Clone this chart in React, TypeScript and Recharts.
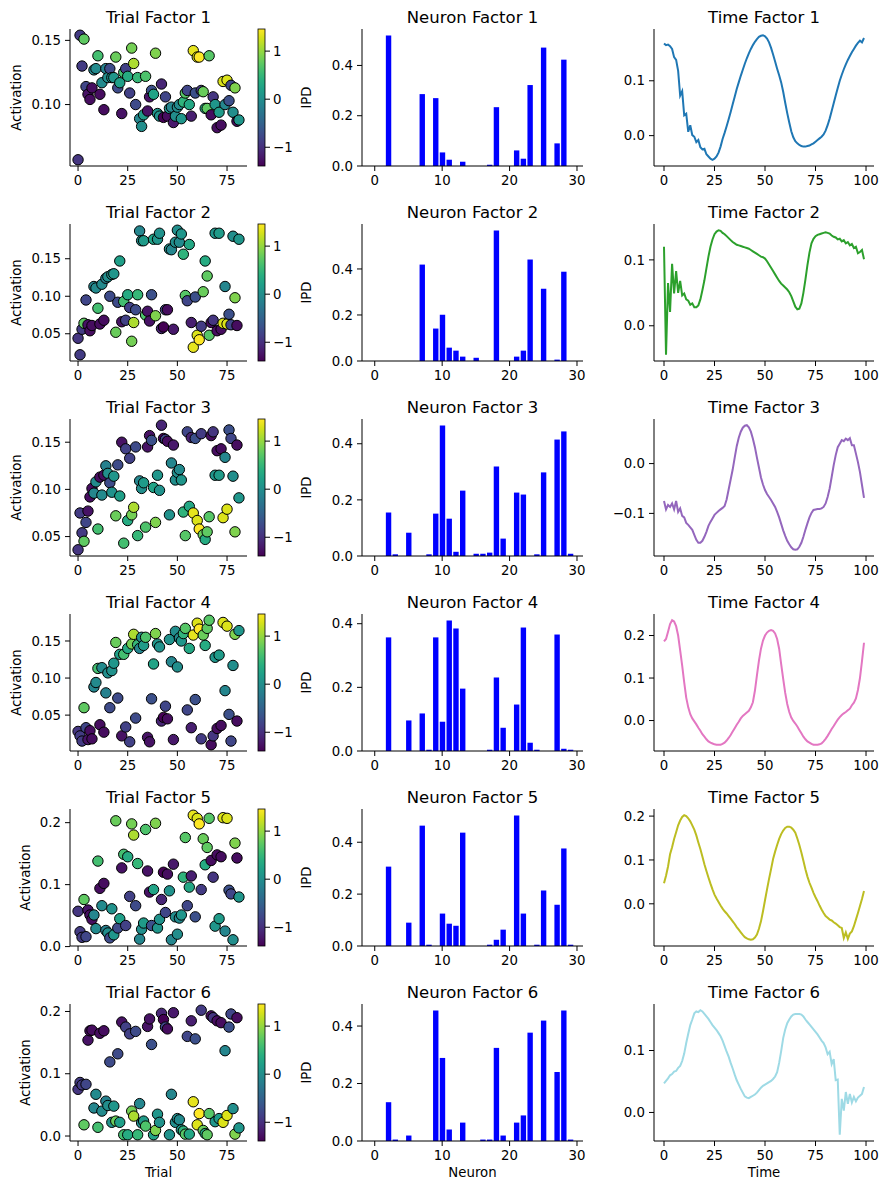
import React from 'react';
import { ScatterChart, Scatter, XAxis, YAxis, BarChart, Bar, LineChart, Line } from 'recharts';

// ---------------- DATA ----------------
const trialColor = [
  -0.95, -0.9, -0.9, 0.75, -0.8, -1.25, -1.3, -1.3, -0.1, -0.05,
  0.6, -1.3, -0.05, -1.3, -0.15, 0.0, -0.75, 0.05, 0.1, 0.8,
  -0.75, 0.2, -1.25, 0.6, -0.85, 0.35, -0.85, 0.85, 1.1, -0.75,
  0.5, -0.1, 0.0, 0.15, 0.65, -1.25, -1.25, -0.7, 0.25, 0.9,
  0.1, 0.05, -1.1, -1.39, -0.8, -1.3, 0.05, -0.1, -1.2, 0.0,
  0.0, -0.05, 0.1, 0.45, 0.7, -0.8, 0.3, -1.15, 1.35, -0.7,
  1.3, 1.46, -0.9, 0.8, 0.35, 0.75, 0.7, -1.3, -0.95, 0.1,
  -1.3, 0.15, -1.3, 1.3, -0.1, 1.3, -0.7, -0.8, 0.0, 0.9,
  -1.3, 0.1,
];

const trialFactor1 = [
  0.057, 0.154, 0.130, 0.151, 0.114, 0.108, 0.104, 0.113, 0.127, 0.128,
  0.138, 0.108, 0.117, 0.096, 0.128, 0.121, 0.128, 0.121, 0.121, 0.137,
  0.113, 0.117, 0.093, 0.125, 0.128, 0.122, 0.109, 0.144, 0.132, 0.100,
  0.121, 0.089, 0.083, 0.092, 0.122, 0.095, 0.106, 0.111, 0.108, 0.140,
  0.093, 0.091, 0.116, 0.090, 0.106, 0.091, 0.097, 0.098, 0.086, 0.091,
  0.098, 0.100, 0.089, 0.102, 0.109, 0.111, 0.100, 0.091, 0.142, 0.109,
  0.137, 0.137, 0.111, 0.110, 0.097, 0.097, 0.138, 0.092, 0.106, 0.100,
  0.082, 0.094, 0.084, 0.118, 0.100, 0.119, 0.103, 0.115, 0.094, 0.113,
  0.087, 0.088,
];
const trialFactor2 = [
  0.044, 0.022, 0.056, 0.064, 0.095, 0.062, 0.054, 0.061, 0.113, 0.111,
  0.084, 0.063, 0.116, 0.068, 0.124, 0.126, 0.100, 0.129, 0.130, 0.052,
  0.092, 0.147, 0.066, 0.093, 0.068, 0.102, 0.085, 0.040, 0.065, 0.082,
  0.102, 0.187, 0.174, 0.174, 0.075, 0.080, 0.067, 0.102, 0.176, 0.074,
  0.176, 0.184, 0.057, 0.059, 0.082, 0.082, 0.163, 0.162, 0.056, 0.172,
  0.188, 0.172, 0.183, 0.156, 0.101, 0.094, 0.169, 0.065, 0.032, 0.099,
  0.048, 0.042, 0.060, 0.106, 0.147, 0.127, 0.048, 0.065, 0.068, 0.184,
  0.054, 0.184, 0.056, 0.064, 0.113, 0.063, 0.076, 0.062, 0.180, 0.098,
  0.061, 0.176,
];
const trialFactor3 = [
  0.036, 0.075, 0.054, 0.045, 0.065, 0.077, 0.092, 0.101, 0.096, 0.108,
  0.058, 0.113, 0.094, 0.115, 0.125, 0.117, 0.107, 0.097, 0.114, 0.072,
  0.126, 0.093, 0.150, 0.043, 0.143, 0.067, 0.133, 0.073, 0.081, 0.145,
  0.051, 0.109, 0.101, 0.107, 0.060, 0.145, 0.157, 0.152, 0.102, 0.065,
  0.115, 0.099, 0.168, 0.154, 0.153, 0.151, 0.073, 0.128, 0.147, 0.110,
  0.118, 0.121, 0.110, 0.076, 0.051, 0.161, 0.082, 0.155, 0.075, 0.154,
  0.067, 0.058, 0.159, 0.052, 0.047, 0.055, 0.071, 0.157, 0.161, 0.115,
  0.141, 0.115, 0.143, 0.070, 0.134, 0.079, 0.163, 0.154, 0.114, 0.055,
  0.147, 0.091,
];
const trialFactor4 = [
  0.028, 0.022, 0.015, 0.060, 0.033, 0.017, 0.029, 0.018, 0.088, 0.094,
  0.113, 0.037, 0.114, 0.027, 0.080, 0.107, 0.060, 0.110, 0.120, 0.148,
  0.073, 0.132, 0.022, 0.132, 0.034, 0.140, 0.014, 0.146, 0.159, 0.046,
  0.145, 0.140, 0.155, 0.144, 0.155, 0.020, 0.014, 0.072, 0.119, 0.160,
  0.146, 0.142, 0.042, 0.047, 0.062, 0.045, 0.152, 0.122, 0.017, 0.163,
  0.115, 0.154, 0.150, 0.160, 0.167, 0.057, 0.140, 0.033, 0.158, 0.071,
  0.174, 0.166, 0.018, 0.158, 0.144, 0.167, 0.178, 0.010, 0.022, 0.128,
  0.032, 0.131, 0.036, 0.175, 0.083, 0.170, 0.051, 0.015, 0.117, 0.159,
  0.042, 0.164,
];
const trialFactor5 = [
  0.057, 0.024, 0.015, 0.076, 0.016, 0.059, 0.051, 0.044, 0.051, 0.029,
  0.138, 0.094, 0.066, 0.102, 0.026, 0.022, 0.014, 0.061, 0.019, 0.203,
  0.030, 0.045, 0.127, 0.149, 0.034, 0.145, 0.081, 0.198, 0.180, 0.066,
  0.134, 0.012, 0.028, 0.038, 0.189, 0.122, 0.088, 0.034, 0.092, 0.199,
  0.030, 0.044, 0.076, 0.120, 0.055, 0.117, 0.090, 0.011, 0.133, 0.048,
  0.020, 0.046, 0.051, 0.112, 0.176, 0.066, 0.096, 0.114, 0.212, 0.048,
  0.207, 0.198, 0.092, 0.174, 0.132, 0.160, 0.207, 0.139, 0.112, 0.033,
  0.148, 0.045, 0.145, 0.208, 0.025, 0.207, 0.091, 0.085, 0.011, 0.167,
  0.143, 0.080,
];
const trialFactor6 = [
  0.075, 0.086, 0.082, 0.018, 0.083, 0.154, 0.169, 0.170, 0.045, 0.067,
  0.014, 0.165, 0.040, 0.169, 0.056, 0.049, 0.119, 0.022, 0.048, 0.024,
  0.132, 0.022, 0.183, 0.002, 0.175, 0.002, 0.164, 0.040, 0.032, 0.168,
  0.002, 0.052, 0.021, 0.024, 0.016, 0.176, 0.188, 0.147, 0.002, 0.009,
  0.035, 0.022, 0.197, 0.187, 0.175, 0.172, 0.002, 0.067, 0.198, 0.022,
  0.028, 0.026, 0.010, 0.008, 0.003, 0.160, 0.003, 0.185, 0.055, 0.156,
  0.018, 0.036, 0.202, 0.009, 0.004, 0.002, 0.036, 0.193, 0.190, 0.023,
  0.185, 0.028, 0.182, 0.022, 0.137, 0.033, 0.175, 0.196, 0.044, 0.003,
  0.190, 0.013,
];

const neuronFactor1 = [0, 0, 0.519, 0, 0, 0, 0, 0.286, 0, 0.270, 0.054, 0.025, 0, 0.017, 0, 0, 0, 0.005, 0.234, 0, 0, 0.062, 0.029, 0.322, 0, 0.471, 0, 0.090, 0.423, 0];
const neuronFactor2 = [0, 0, 0, 0, 0, 0, 0, 0.419, 0, 0.141, 0.201, 0.058, 0.045, 0.019, 0, 0.014, 0, 0, 0.567, 0, 0, 0.019, 0.045, 0.441, 0, 0.314, 0, 0.006, 0.388, 0];
const neuronFactor3 = [0, 0, 0.155, 0.006, 0, 0.083, 0, 0, 0.006, 0.151, 0.465, 0.133, 0.015, 0.233, 0, 0.008, 0.008, 0.012, 0.319, 0.062, 0, 0.226, 0.219, 0, 0.006, 0.298, 0, 0.415, 0.444, 0.008];
const neuronFactor4 = [0, 0, 0.357, 0, 0, 0.096, 0, 0.118, 0.004, 0.357, 0.092, 0.410, 0.385, 0.196, 0, 0, 0, 0.004, 0.231, 0.073, 0, 0.146, 0.388, 0.026, 0.004, 0, 0, 0.366, 0.007, 0.004];
const neuronFactor5 = [0, 0, 0.306, 0, 0, 0.090, 0, 0.464, 0.005, 0, 0.125, 0.086, 0.078, 0.437, 0, 0, 0, 0.005, 0.024, 0.063, 0, 0.503, 0.125, 0, 0.005, 0.214, 0, 0.159, 0.376, 0.005];
const neuronFactor6 = [0, 0, 0.135, 0.005, 0, 0.019, 0, 0, 0, 0.454, 0.289, 0.040, 0, 0.064, 0, 0, 0.005, 0.005, 0.324, 0.019, 0, 0.064, 0.089, 0.377, 0, 0.419, 0, 0.240, 0.454, 0.005];

const timeFactor1 = [
  0.168, 0.165, 0.166, 0.163, 0.158, 0.143, 0.138, 0.118, 0.073, 0.081,
  0.037, 0.040, 0.007, 0.019, 0.001, -0.002, -0.012, -0.008, -0.021, -0.025,
  -0.024, -0.034, -0.038, -0.042, -0.044, -0.042, -0.038, -0.031, -0.020, -0.006,
  0.005, 0.017, 0.030, 0.043, 0.057, 0.071, 0.085, 0.097, 0.109, 0.120,
  0.131, 0.141, 0.150, 0.158, 0.165, 0.171, 0.176, 0.180, 0.182, 0.183,
  0.181, 0.177, 0.170, 0.160, 0.148, 0.135, 0.122, 0.110, 0.097, 0.080,
  0.060, 0.041, 0.024, 0.008, -0.003, -0.010, -0.014, -0.017, -0.019, -0.020,
  -0.020, -0.019, -0.018, -0.016, -0.014, -0.011, -0.008, -0.005, -0.002, 0.002,
  0.009, 0.019, 0.031, 0.045, 0.059, 0.073, 0.087, 0.100, 0.111, 0.121,
  0.130, 0.138, 0.145, 0.152, 0.158, 0.164, 0.169, 0.173, 0.170, 0.178,
];
const timeFactor2 = [
  0.120, -0.044, 0.065, 0.021, 0.094, 0.049, 0.083, 0.050, 0.068, 0.046,
  0.049, 0.040, 0.038, 0.032, 0.034, 0.028, 0.028, 0.031, 0.040, 0.054,
  0.069, 0.087, 0.105, 0.120, 0.131, 0.139, 0.143, 0.145, 0.144, 0.141,
  0.139, 0.136, 0.133, 0.130, 0.127, 0.125, 0.123, 0.122, 0.121, 0.120,
  0.119, 0.118, 0.117, 0.115, 0.113, 0.111, 0.109, 0.107, 0.105, 0.104,
  0.102, 0.098, 0.093, 0.088, 0.083, 0.078, 0.073, 0.068, 0.064, 0.061,
  0.058, 0.055, 0.051, 0.045, 0.037, 0.029, 0.025, 0.026, 0.034, 0.050,
  0.070, 0.092, 0.111, 0.125, 0.132, 0.136, 0.138, 0.139, 0.140, 0.141,
  0.142, 0.141, 0.140, 0.137, 0.135, 0.134, 0.131, 0.132, 0.128, 0.130,
  0.125, 0.127, 0.122, 0.124, 0.118, 0.120, 0.110, 0.112, 0.115, 0.101,
];
const timeFactor3 = [
  -0.075, -0.092, -0.083, -0.087, -0.080, -0.092, -0.075, -0.097, -0.090, -0.105,
  -0.108, -0.119, -0.123, -0.128, -0.133, -0.143, -0.153, -0.159, -0.159, -0.155,
  -0.147, -0.137, -0.125, -0.117, -0.110, -0.103, -0.099, -0.095, -0.092, -0.089,
  -0.085, -0.072, -0.052, -0.032, -0.012, 0.012, 0.035, 0.052, 0.064, 0.072,
  0.076, 0.077, 0.073, 0.064, 0.050, 0.033, 0.012, -0.008, -0.028, -0.042,
  -0.053, -0.061, -0.067, -0.073, -0.080, -0.087, -0.097, -0.108, -0.121, -0.134,
  -0.145, -0.155, -0.162, -0.168, -0.172, -0.173, -0.172, -0.167, -0.159, -0.147,
  -0.133, -0.120, -0.108, -0.099, -0.093, -0.092, -0.091, -0.091, -0.090, -0.087,
  -0.080, -0.067, -0.050, -0.027, -0.003, 0.017, 0.033, 0.040, 0.047, 0.045,
  0.050, 0.047, 0.051, 0.037, 0.037, 0.020, 0.003, -0.017, -0.043, -0.069,
];
const timeFactor4 = [
  0.186, 0.192, 0.209, 0.227, 0.236, 0.233, 0.222, 0.200, 0.165, 0.129,
  0.090, 0.054, 0.031, 0.015, 0.005, -0.002, -0.009, -0.017, -0.024, -0.032,
  -0.038, -0.044, -0.049, -0.052, -0.054, -0.056, -0.057, -0.057, -0.057, -0.055,
  -0.052, -0.047, -0.041, -0.034, -0.026, -0.018, -0.010, -0.003, 0.005, 0.011,
  0.015, 0.019, 0.023, 0.031, 0.043, 0.070, 0.106, 0.141, 0.169, 0.188,
  0.200, 0.207, 0.211, 0.213, 0.211, 0.205, 0.192, 0.169, 0.133, 0.098,
  0.065, 0.039, 0.020, 0.007, -0.001, -0.007, -0.014, -0.022, -0.030, -0.038,
  -0.044, -0.049, -0.052, -0.055, -0.057, -0.057, -0.057, -0.056, -0.054, -0.049,
  -0.043, -0.036, -0.028, -0.020, -0.013, -0.005, 0.002, 0.008, 0.013, 0.017,
  0.020, 0.024, 0.028, 0.036, 0.042, 0.052, 0.072, 0.100, 0.140, 0.183,
];
const timeFactor5 = [
  0.047, 0.064, 0.085, 0.113, 0.129, 0.148, 0.163, 0.179, 0.190, 0.198,
  0.202, 0.200, 0.195, 0.188, 0.179, 0.169, 0.156, 0.140, 0.125, 0.108,
  0.090, 0.075, 0.060, 0.046, 0.033, 0.021, 0.012, 0.004, -0.004, -0.011,
  -0.017, -0.022, -0.028, -0.034, -0.040, -0.046, -0.053, -0.059, -0.065, -0.071,
  -0.076, -0.079, -0.081, -0.082, -0.081, -0.077, -0.070, -0.057, -0.040, -0.017,
  0.008, 0.033, 0.057, 0.079, 0.102, 0.119, 0.134, 0.148, 0.159, 0.167,
  0.173, 0.176, 0.176, 0.174, 0.169, 0.162, 0.149, 0.134, 0.117, 0.098,
  0.079, 0.062, 0.048, 0.037, 0.025, 0.015, 0.006, -0.004, -0.013, -0.021,
  -0.028, -0.032, -0.036, -0.038, -0.042, -0.045, -0.049, -0.053, -0.055, -0.078,
  -0.065, -0.080, -0.068, -0.063, -0.051, -0.036, -0.021, -0.005, 0.011, 0.029,
];
const timeFactor6 = [
  0.047, 0.051, 0.055, 0.060, 0.062, 0.066, 0.067, 0.072, 0.075, 0.083,
  0.095, 0.112, 0.127, 0.141, 0.150, 0.160, 0.163, 0.162, 0.165, 0.163,
  0.159, 0.155, 0.151, 0.146, 0.141, 0.137, 0.133, 0.128, 0.123, 0.116,
  0.107, 0.098, 0.090, 0.080, 0.071, 0.061, 0.052, 0.045, 0.038, 0.032,
  0.026, 0.024, 0.023, 0.025, 0.027, 0.029, 0.032, 0.036, 0.040, 0.043,
  0.045, 0.047, 0.049, 0.051, 0.054, 0.058, 0.065, 0.080, 0.099, 0.120,
  0.134, 0.144, 0.150, 0.155, 0.158, 0.159, 0.159, 0.159, 0.158, 0.155,
  0.150, 0.146, 0.142, 0.138, 0.134, 0.130, 0.126, 0.121, 0.116, 0.112,
  0.105, 0.094, 0.098, 0.078, 0.086, 0.052, 0.053, -0.036, 0.022, 0.003,
  0.033, 0.014, 0.030, 0.016, 0.025, 0.018, 0.024, 0.027, 0.030, 0.041,
];

const trialTicks = [0, 25, 50, 75];
const neuronTicks = [0, 10, 20, 30];
const timeTicks = [0, 25, 50, 75, 100];
const trialYTicks = [[0.1, 0.15], [0.05, 0.1, 0.15], [0.05, 0.1, 0.15], [0.05, 0.1, 0.15], [0, 0.1, 0.2], [0, 0.1, 0.2]];
const trialYDecimals = [2, 2, 2, 2, 1, 1];
const neuronYTicks = [0, 0.2, 0.4];
const timeYTicks = [[0, 0.1], [0, 0.1], [-0.1, 0], [0, 0.1, 0.2], [0, 0.1, 0.2], [0, 0.1]];
const colorbarTicks = [-1, 0, 1];
const timeColors = ['#1f77b4', '#2ca02c', '#9467bd', '#e377c2', '#bcbd22', '#9edae5'];

const trialFactors = [trialFactor1, trialFactor2, trialFactor3, trialFactor4, trialFactor5, trialFactor6];
const neuronFactors = [neuronFactor1, neuronFactor2, neuronFactor3, neuronFactor4, neuronFactor5, neuronFactor6];
const timeFactors = [timeFactor1, timeFactor2, timeFactor3, timeFactor4, timeFactor5, timeFactor6];

// ---------------- STYLE / LAYOUT ----------------
const FONT = "'DejaVu Sans', sans-serif";
const TICK_FS = 13.3;
const TITLE_FS = 16.5;
const ROW_H = 195;
const AX_TOP0 = 29;
const AX_H = 137;
const TRIAL_COL = { left: 70, width: 177 };
const NEURON_COL = { left: 362, width: 221 };
const TIME_COL = { left: 654, width: 220 };
const CB = { left: 258, width: 7 };
const YW = 64;
const MT = 10;
const MR = 10;
const XH = 30;

const VIRIDIS = ['#440154', '#48186a', '#472d7b', '#424086', '#3b528b', '#33638d', '#2c728e', '#26828e', '#21918c', '#1fa088', '#28ae80', '#3fbc73', '#5ec962', '#84d44b', '#addc30', '#d8e219', '#fde725'];
const CMIN = Math.min(...trialColor);
const CMAX = Math.max(...trialColor);

function hexToRgb(h: string) {
  return [parseInt(h.slice(1, 3), 16), parseInt(h.slice(3, 5), 16), parseInt(h.slice(5, 7), 16)];
}
function viridis(v: number) {
  let t = (v - CMIN) / (CMAX - CMIN);
  t = Math.max(0, Math.min(1, t));
  const p = t * 16;
  const i = Math.min(15, Math.floor(p));
  const f = p - i;
  const a = hexToRgb(VIRIDIS[i]);
  const b = hexToRgb(VIRIDIS[i + 1]);
  const c = a.map((x, k) => Math.round(x + (b[k] - x) * f));
  return `rgb(${c[0]},${c[1]},${c[2]})`;
}

function padDomain(vals: number[]): [number, number] {
  const mn = Math.min(...vals);
  const mx = Math.max(...vals);
  const r = mx - mn;
  return [mn - 0.05 * r, mx + 0.05 * r];
}
const fmt = (d: number) => (v: number) => v.toFixed(d).replace('-', '\u2212');

const tickStyle = { fontSize: TICK_FS, fill: '#000', fontFamily: FONT };
const axisLine = { stroke: '#000', strokeWidth: 1 };
const tickLine = { stroke: '#000', strokeWidth: 1 };

function axTop(i: number) {
  return AX_TOP0 + ROW_H * i;
}

function TrialPanel({ i }: { i: number }) {
  const vals = trialFactors[i];
  const data = vals.map((y, k) => ({ x: k, y, c: trialColor[k] }));
  return (
    <div style={{ position: 'absolute', left: TRIAL_COL.left - YW, top: axTop(i) - MT }}>
      <ScatterChart width={YW + TRIAL_COL.width + MR} height={MT + AX_H + XH} margin={{ top: MT, right: MR, left: 0, bottom: 0 }}>
        <XAxis type="number" dataKey="x" domain={[-4.05, 85.05]} ticks={trialTicks} allowDataOverflow height={XH}
          tick={tickStyle} axisLine={axisLine} tickLine={tickLine} tickSize={5} tickMargin={5} interval={0} />
        <YAxis type="number" dataKey="y" domain={padDomain(vals)} ticks={trialYTicks[i]} allowDataOverflow width={YW}
          tick={tickStyle} axisLine={axisLine} tickLine={tickLine} tickSize={5} tickMargin={4} interval={0}
          tickFormatter={fmt(trialYDecimals[i])} />
        <Scatter data={data} isAnimationActive={false}
          shape={(p: any) => <circle cx={p.cx} cy={p.cy} r={5.2} fill={viridis(p.payload.c)} stroke="#000" strokeWidth={1} />} />
      </ScatterChart>
    </div>
  );
}

function NeuronPanel({ i }: { i: number }) {
  const vals = neuronFactors[i];
  const data = vals.map((v, k) => ({ n: k, v }));
  const mx = Math.max(...vals) * 1.05;
  const pxPerUnit = NEURON_COL.width / 32.78;
  return (
    <div style={{ position: 'absolute', left: NEURON_COL.left - YW, top: axTop(i) - MT }}>
      <BarChart width={YW + NEURON_COL.width + MR} height={MT + AX_H + XH} data={data} margin={{ top: MT, right: MR, left: 0, bottom: 0 }}>
        <XAxis type="number" dataKey="n" domain={[-1.89, 30.89]} ticks={neuronTicks} allowDataOverflow height={XH}
          tick={tickStyle} axisLine={axisLine} tickLine={tickLine} tickSize={5} tickMargin={5} interval={0} />
        <YAxis type="number" domain={[0, mx]} ticks={neuronYTicks} allowDataOverflow width={YW}
          tick={tickStyle} axisLine={axisLine} tickLine={tickLine} tickSize={5} tickMargin={4} interval={0}
          tickFormatter={fmt(1)} />
        <Bar dataKey="v" fill="#0000ff" barSize={0.8 * pxPerUnit} isAnimationActive={false} />
      </BarChart>
    </div>
  );
}

function TimePanel({ i }: { i: number }) {
  const vals = timeFactors[i];
  const data = vals.map((v, k) => ({ t: k, v }));
  return (
    <div style={{ position: 'absolute', left: TIME_COL.left - YW, top: axTop(i) - MT }}>
      <LineChart width={YW + TIME_COL.width + MR} height={MT + AX_H + XH} data={data} margin={{ top: MT, right: MR, left: 0, bottom: 0 }}>
        <XAxis type="number" dataKey="t" domain={[-4.95, 103.95]} ticks={timeTicks} allowDataOverflow height={XH}
          tick={tickStyle} axisLine={axisLine} tickLine={tickLine} tickSize={5} tickMargin={5} interval={0} />
        <YAxis type="number" domain={padDomain(vals)} ticks={timeYTicks[i]} allowDataOverflow width={YW}
          tick={tickStyle} axisLine={axisLine} tickLine={tickLine} tickSize={5} tickMargin={4} interval={0}
          tickFormatter={fmt(1)} />
        <Line type="linear" dataKey="v" stroke={timeColors[i]} strokeWidth={2} dot={false} isAnimationActive={false} />
      </LineChart>
    </div>
  );
}

function Overlay() {
  const rows = [0, 1, 2, 3, 4, 5];
  const cbY = (top: number, v: number) => top + ((CMAX - v) / (CMAX - CMIN)) * AX_H;
  return (
    <svg width={889} height={1189} style={{ position: 'absolute', left: 0, top: 0, pointerEvents: 'none' }}
      fontFamily={FONT}>
      <defs>
        <linearGradient id="viridisGrad" x1="0" y1="1" x2="0" y2="0">
          {VIRIDIS.map((c, k) => (
            <stop key={k} offset={k / 16} stopColor={c} />
          ))}
        </linearGradient>
      </defs>
      {rows.map((i) => {
        const top = axTop(i);
        const midY = top + AX_H / 2;
        return (
          <g key={i}>
            <text x={TRIAL_COL.left + TRIAL_COL.width / 2} y={top - 12} fontSize={TITLE_FS} textAnchor="middle" dominantBaseline="central" fill="#000">
              {`Trial Factor ${i + 1}`}
            </text>
            <text x={NEURON_COL.left + NEURON_COL.width / 2} y={top - 12} fontSize={TITLE_FS} textAnchor="middle" dominantBaseline="central" fill="#000">
              {`Neuron Factor ${i + 1}`}
            </text>
            <text x={TIME_COL.left + TIME_COL.width / 2} y={top - 12} fontSize={TITLE_FS} textAnchor="middle" dominantBaseline="central" fill="#000">
              {`Time Factor ${i + 1}`}
            </text>
            <text x={i < 4 ? 16 : 25} y={midY} fontSize={TICK_FS} textAnchor="middle" dominantBaseline="central" fill="#000"
              transform={`rotate(-90 ${i < 4 ? 16 : 25} ${midY})`}>
              Activation
            </text>
            <rect x={CB.left} y={top} width={CB.width} height={AX_H} fill="url(#viridisGrad)" stroke="#000" strokeWidth={0.8} />
            {colorbarTicks.map((v) => (
              <g key={v}>
                <line x1={CB.left + CB.width} x2={CB.left + CB.width + 5} y1={cbY(top, v)} y2={cbY(top, v)} stroke="#000" strokeWidth={1} />
                <text x={CB.left + CB.width + 8} y={cbY(top, v)} fontSize={TICK_FS} dominantBaseline="central" fill="#000">
                  {String(v).replace('-', '\u2212')}
                </text>
              </g>
            ))}
            <text x={306} y={midY} fontSize={TICK_FS} textAnchor="middle" dominantBaseline="central" fill="#000"
              transform={`rotate(-90 306 ${midY})`}>
              IPD
            </text>
          </g>
        );
      })}
      <text x={TRIAL_COL.left + TRIAL_COL.width / 2} y={1172} fontSize={TICK_FS} textAnchor="middle" dominantBaseline="central" fill="#000">Trial</text>
      <text x={NEURON_COL.left + NEURON_COL.width / 2} y={1172} fontSize={TICK_FS} textAnchor="middle" dominantBaseline="central" fill="#000">Neuron</text>
      <text x={TIME_COL.left + TIME_COL.width / 2} y={1172} fontSize={TICK_FS} textAnchor="middle" dominantBaseline="central" fill="#000">Time</text>
    </svg>
  );
}

export default function App() {
  const rows = [0, 1, 2, 3, 4, 5];
  return (
    <div style={{ position: 'absolute', left: 0, top: 0, width: 889, height: 1189, background: '#fff', fontFamily: FONT, overflow: 'hidden' }}>
      {rows.map((i) => (
        <React.Fragment key={i}>
          <TrialPanel i={i} />
          <NeuronPanel i={i} />
          <TimePanel i={i} />
        </React.Fragment>
      ))}
      <Overlay />
    </div>
  );
}
